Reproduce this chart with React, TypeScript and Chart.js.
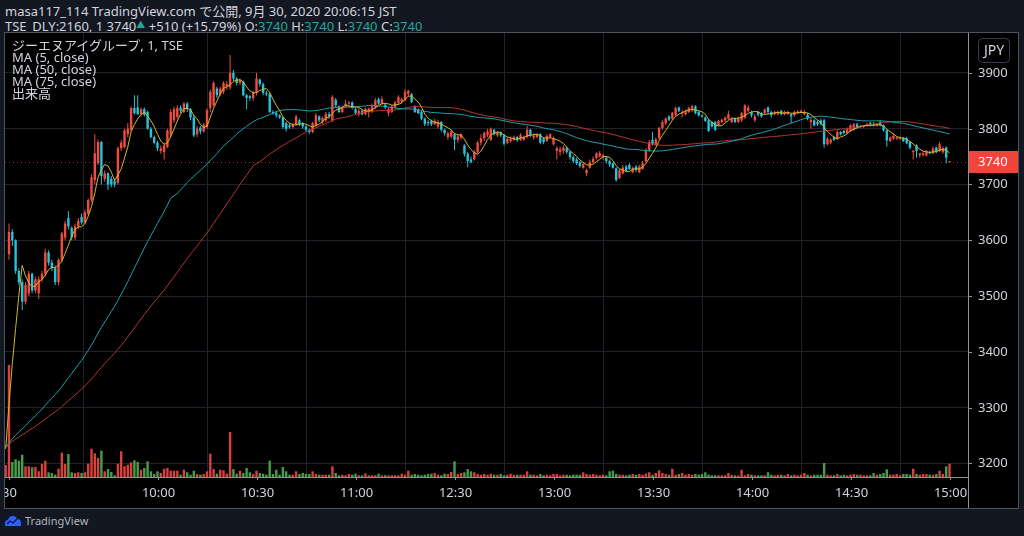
import React, { useEffect, useRef } from "react";
import { Chart, registerables } from "chart.js";
Chart.register(...registerables);

// ---- data (1-minute bars, 30 Sep 2020, 9:15 .. 15:00) ----
const openP = [
3575,3615,3600,3545,3525,3490,3505,3540,3510,3505,3530,3540,3578,3560,3550,3525,3565,3605,3640,3622,
3605,3625,3642,3632,3648,3672,3708,3738,3776,3710,3720,3710,3706,3703,3765,3767,3790,3798,3837,3838,
3826,3835,3830,3800,3785,3775,3760,3758,3767,3789,3815,3821,3838,3830,3845,3835,3820,3790,3802,3795,
3803,3837,3842,3872,3862,3866,3876,3874,3900,3890,3882,3884,3860,3858,3855,3864,3888,3880,3864,3862,
3830,3828,3824,3820,3810,3806,3803,3808,3815,3810,3804,3798,3794,3805,3822,3812,3815,3826,3815,3852,
3840,3830,3840,3845,3847,3835,3826,3832,3826,3830,3830,3838,3853,3845,3843,3828,3830,3838,3846,3848,
3851,3862,3862,3840,3834,3830,3818,3812,3814,3808,3804,3812,3798,3785,3786,3790,3780,3784,3770,3755,
3745,3745,3758,3775,3783,3788,3780,3798,3788,3793,3788,3775,3778,3780,3785,3780,3780,3785,3798,3784,
3785,3790,3782,3778,3785,3772,3760,3758,3760,3765,3758,3749,3745,3740,3730,3720,3730,3740,3747,3750,
3748,3748,3742,3738,3729,3712,3720,3732,3735,3722,3732,3722,3728,3742,3762,3780,3772,3783,3801,3810,
3822,3818,3825,3838,3828,3826,3830,3834,3840,3830,3824,3820,3815,3812,3812,3806,3812,3815,3818,3812,
3818,3812,3815,3820,3832,3830,3815,3830,3828,3828,3838,3830,3826,3826,3832,3826,3826,3826,3824,3828,
3829,3826,3825,3812,3815,3812,3815,3815,3772,3775,3785,3782,3794,3796,3792,3796,3798,3808,3803,3803,
3805,3810,3808,3806,3812,3806,3797,3778,3782,3782,3782,3783,3783,3776,3758,3770,3753,3753,3752,3758,
3756,3766,3760,3758,3766,3740
];
const highP = [
3630,3620,3602,3550,3530,3525,3545,3542,3535,3535,3545,3585,3582,3565,3555,3568,3615,3635,3652,3625,
3630,3640,3648,3655,3675,3718,3790,3780,3778,3725,3722,3715,3710,3768,3780,3800,3810,3840,3860,3860,
3838,3838,3832,3803,3788,3778,3770,3775,3800,3835,3840,3842,3842,3848,3848,3837,3825,3805,3805,3810,
3836,3870,3885,3875,3875,3885,3885,3932,3905,3892,3890,3886,3862,3860,3868,3900,3890,3883,3868,3865,
3833,3832,3826,3822,3812,3810,3810,3825,3818,3812,3806,3800,3812,3828,3824,3822,3830,3830,3860,3855,
3842,3842,3852,3850,3849,3838,3836,3834,3838,3838,3845,3855,3856,3858,3846,3838,3842,3850,3860,3856,
3871,3870,3864,3842,3836,3832,3820,3815,3816,3818,3816,3814,3800,3795,3798,3792,3790,3792,3772,3758,
3750,3762,3778,3790,3795,3800,3802,3800,3796,3795,3790,3784,3786,3788,3787,3792,3788,3805,3800,3792,
3792,3792,3785,3790,3792,3786,3768,3768,3770,3768,3760,3752,3748,3742,3740,3728,3745,3750,3758,3760,
3755,3750,3745,3740,3731,3728,3735,3735,3738,3732,3735,3735,3742,3765,3780,3794,3784,3803,3815,3820,
3824,3830,3840,3840,3834,3834,3840,3843,3842,3832,3826,3822,3817,3814,3814,3816,3818,3822,3832,3820,
3820,3822,3830,3844,3842,3832,3826,3832,3830,3836,3840,3832,3832,3832,3834,3832,3832,3828,3832,3833,
3834,3834,3828,3820,3818,3815,3818,3818,3785,3783,3787,3797,3796,3798,3802,3808,3810,3810,3806,3806,
3810,3812,3812,3810,3815,3808,3799,3786,3790,3786,3786,3785,3785,3778,3762,3772,3756,3758,3762,3760,
3768,3768,3776,3768,3768,3740
];
const lowP = [
3565,3590,3540,3520,3475,3485,3500,3505,3505,3495,3525,3535,3555,3545,3520,3520,3560,3600,3620,3600,
3600,3620,3628,3630,3645,3668,3700,3735,3700,3705,3690,3695,3695,3700,3760,3765,3785,3795,3825,3825,
3822,3822,3798,3783,3772,3760,3755,3745,3765,3785,3810,3818,3828,3828,3830,3815,3785,3785,3790,3793,
3800,3830,3840,3855,3858,3862,3870,3870,3885,3878,3878,3858,3835,3850,3850,3860,3875,3860,3858,3828,
3825,3820,3818,3800,3795,3800,3800,3805,3805,3800,3795,3790,3792,3803,3812,3808,3812,3818,3812,3838,
3828,3828,3838,3840,3835,3825,3822,3824,3824,3820,3828,3835,3843,3843,3835,3822,3828,3836,3843,3845,
3849,3858,3846,3828,3826,3815,3805,3805,3805,3806,3800,3795,3788,3780,3783,3762,3775,3780,3750,3731,
3738,3743,3755,3770,3778,3785,3778,3788,3785,3785,3770,3772,3775,3778,3776,3778,3778,3783,3785,3780,
3783,3772,3772,3776,3783,3770,3745,3752,3755,3755,3745,3738,3735,3730,3728,3715,3728,3738,3745,3748,
3745,3738,3732,3728,3705,3710,3718,3722,3726,3720,3722,3720,3726,3740,3758,3770,3770,3780,3798,3806,
3814,3815,3822,3830,3820,3824,3828,3830,3826,3822,3820,3812,3794,3802,3796,3804,3810,3812,3816,3810,
3810,3810,3812,3818,3830,3820,3812,3822,3820,3826,3826,3820,3824,3824,3824,3824,3824,3810,3822,3826,
3828,3824,3815,3800,3804,3805,3806,3766,3770,3772,3778,3780,3788,3790,3790,3794,3796,3800,3801,3801,
3803,3804,3804,3804,3804,3795,3768,3776,3780,3780,3780,3776,3772,3763,3745,3748,3748,3750,3750,3754,
3754,3756,3758,3755,3738,3740
];
const closeP = [
3615,3600,3545,3525,3490,3520,3540,3510,3530,3530,3540,3578,3560,3550,3525,3565,3612,3630,3625,3605,
3625,3635,3632,3650,3672,3713,3756,3776,3715,3720,3700,3700,3700,3765,3775,3797,3800,3837,3828,3826,
3835,3825,3800,3785,3775,3765,3765,3770,3797,3830,3835,3837,3832,3845,3835,3820,3788,3800,3795,3807,
3833,3866,3882,3860,3872,3882,3880,3900,3890,3882,3887,3860,3855,3855,3864,3890,3880,3864,3862,3830,
3828,3824,3820,3803,3800,3803,3808,3822,3808,3804,3798,3794,3810,3824,3815,3819,3826,3822,3857,3842,
3830,3838,3845,3847,3838,3828,3832,3826,3835,3836,3840,3851,3845,3853,3838,3835,3840,3847,3857,3853,
3866,3868,3848,3830,3828,3818,3808,3810,3808,3814,3812,3798,3792,3792,3795,3780,3786,3790,3755,3742,
3740,3758,3775,3783,3792,3795,3800,3790,3793,3788,3773,3782,3782,3785,3780,3789,3785,3798,3788,3788,
3790,3775,3776,3787,3790,3783,3765,3763,3766,3758,3749,3742,3738,3733,3737,3726,3740,3746,3756,3756,
3752,3742,3736,3730,3708,3725,3730,3725,3728,3730,3726,3732,3738,3762,3776,3772,3781,3801,3812,3818,
3816,3828,3837,3832,3830,3832,3837,3840,3828,3824,3822,3814,3796,3804,3798,3814,3816,3820,3826,3818,
3812,3818,3828,3842,3838,3824,3822,3825,3822,3834,3830,3824,3830,3830,3826,3830,3830,3822,3830,3831,
3832,3830,3818,3816,3806,3808,3808,3772,3782,3780,3780,3794,3790,3792,3799,3806,3808,3803,3805,3805,
3808,3807,3806,3808,3806,3797,3779,3784,3787,3784,3784,3778,3774,3766,3760,3760,3756,3756,3760,3756,
3764,3758,3772,3765,3748,3740
];
const volumes = [
11200,1500,1770,1630,2230,1070,1070,970,1000,570,1300,1630,470,400,230,830,2430,1300,2300,470,
400,470,400,470,1330,2830,2370,1900,2630,570,800,500,170,1330,2570,1070,1230,1470,1670,1500,
730,900,1570,570,300,570,400,830,900,630,630,630,230,730,470,230,630,300,230,300,
570,2330,800,330,730,670,330,4500,800,330,630,400,900,470,300,630,400,330,230,1630,
300,730,230,1000,570,230,230,570,300,400,300,300,570,300,230,230,230,230,1070,400,
170,230,170,300,230,330,170,170,370,170,170,170,330,170,170,170,170,170,170,330,
230,630,230,300,230,170,230,300,330,400,230,170,330,300,500,1570,300,400,470,800,
570,470,300,230,300,230,330,230,230,300,170,230,330,230,230,230,230,570,230,230,
170,300,170,230,170,300,300,170,230,230,170,230,230,230,470,300,230,300,230,170,
230,170,570,630,300,230,230,170,230,300,230,300,230,330,470,230,400,670,400,300,
230,830,230,300,400,230,300,230,300,230,300,470,230,170,170,170,170,170,400,230,
170,170,730,170,300,230,170,170,170,170,470,230,170,230,230,170,300,170,230,170,
230,400,230,170,230,230,230,1400,230,170,170,300,170,230,170,230,300,230,230,170,
170,170,400,230,300,400,770,230,230,300,170,300,300,230,830,300,230,300,300,230,
230,300,630,300,1070,1330
];
// previous session's closing prices (only used by the moving averages)
const prevDayCloses = [
3235,3240,3235,3230,3230,3225,3230,3235,3230,3225,3220,3225,3230,3230,3235,3230,3225,3225,3230,3235,
3240,3235,3230,3225,3230,3230,3235,3230,3225,3220,3225,3230,3230,3235,3240,3235,3230,3230,3225,3230,
3235,3230,3225,3225,3230,3230,3235,3230,3225,3230,3230,3225,3220,3225,3230,3235,3230,3230,3225,3230,
3230,3235,3230,3225,3230,3230,3225,3230,3235,3230,3225,3230,3230,3225,3225
];
const prevDayLastVolume = 1200;
const timeTickIndex = [0, 45, 75, 105, 135, 165, 195, 225, 255, 285];
const timeTickLabels = ["30", "10:00", "10:30", "11:00", "12:30", "13:00", "13:30", "14:00", "14:30", "15:00"];
const priceTicks = [3200, 3300, 3400, 3500, 3600, 3700, 3800, 3900];
const maPeriods = [5, 50, 75];
const maColors = ["#cdb82c", "#1e9fb0", "#b8352f"];
const legendLines = ["ジーエヌアイグループ, 1, TSE", "MA (5, close)", "MA (50, close)", "MA (75, close)", "出来高"];

const UP = "#f04d40";
const DOWN = "#29c2dc";
const VOL_UP = "#d9413a";
const VOL_DOWN = "#43a047";
const FONT = '"Noto Sans", "Noto Sans CJK JP", sans-serif';
const TEXT = "#d1d4dc";
const TEAL = "#26a69a";

export default function App() {
  const ref = useRef<HTMLCanvasElement>(null);
  useEffect(() => {
    const canvas = ref.current!;
    const off = prevDayCloses.length;
    const allClose = prevDayCloses.concat(closeP);
    const ma = (p: number) => {
      const pts: { x: number; y: number }[] = [];
      for (let k = Math.max(p - 1, off - 3); k < allClose.length; k++) {
        let s = 0;
        for (let j = k - p + 1; j <= k; j++) s += allClose[j];
        pts.push({ x: k - off, y: s / p });
      }
      return pts;
    };
    const isUp = closeP.map((c, i) => c >= openP[i]);
    const lastClose = closeP[closeP.length - 1];

    const overlay = {
      id: "overlay",
      beforeDatasetsDraw(chart: any) {
        const { ctx, chartArea: a, scales } = chart;
        const y = Math.round(scales.y.getPixelForValue(lastClose)) + 0.5;
        ctx.save();
        ctx.strokeStyle = "#9c2f2c";
        ctx.lineWidth = 1;
        ctx.setLineDash([1, 3]);
        ctx.beginPath();
        ctx.moveTo(a.left, y);
        ctx.lineTo(a.right, y);
        ctx.stroke();
        ctx.restore();
      },
      afterDraw(chart: any) {
        const { ctx, chartArea: a, scales } = chart;
        const W = chart.width, H = chart.height;
        ctx.save();
        // axis lines
        ctx.strokeStyle = "#8f929b";
        ctx.lineWidth = 1;
        ctx.beginPath();
        ctx.moveTo(a.right + 0.5, 0);
        ctx.lineTo(a.right + 0.5, H);
        ctx.moveTo(0, a.bottom + 0.5);
        ctx.lineTo(a.right, a.bottom + 0.5);
        ctx.stroke();
        // price ticks and labels
        ctx.font = "13px " + FONT;
        ctx.fillStyle = TEXT;
        ctx.textBaseline = "middle";
        ctx.textAlign = "left";
        for (const v of priceTicks) {
          const py = Math.round(scales.y.getPixelForValue(v)) + 0.5;
          ctx.beginPath();
          ctx.moveTo(a.right, py);
          ctx.lineTo(a.right + 4, py);
          ctx.stroke();
          ctx.fillText(String(v), a.right + 10, py);
        }
        // time ticks and labels
        ctx.textAlign = "center";
        for (let i = 0; i < timeTickIndex.length; i++) {
          const px = Math.round(scales.x.getPixelForValue(timeTickIndex[i])) + 0.5;
          ctx.beginPath();
          ctx.moveTo(px, a.bottom);
          ctx.lineTo(px, a.bottom + 3);
          ctx.stroke();
          ctx.fillText(timeTickLabels[i], px, a.bottom + 16);
        }
        // last price label
        const ly = scales.y.getPixelForValue(lastClose);
        ctx.fillStyle = "#f0453a";
        ctx.fillRect(a.right + 1, Math.round(ly - 11), W - a.right - 1, 22);
        ctx.fillStyle = "#ffffff";
        ctx.textAlign = "left";
        ctx.fillText(String(lastClose), a.right + 10, ly + 0.5);
        // JPY button
        ctx.strokeStyle = "#3a3e4a";
        ctx.beginPath();
        const bx = a.right + 10.5, by = 5.5, bw = 31, bh = 24, r = 4;
        ctx.moveTo(bx + r, by);
        ctx.arcTo(bx + bw, by, bx + bw, by + bh, r);
        ctx.arcTo(bx + bw, by + bh, bx, by + bh, r);
        ctx.arcTo(bx, by + bh, bx, by, r);
        ctx.arcTo(bx, by, bx + bw, by, r);
        ctx.closePath();
        ctx.stroke();
        ctx.fillStyle = TEXT;
        ctx.textAlign = "center";
        ctx.font = "14px " + FONT;
        ctx.fillText("JPY", bx + bw / 2, by + bh / 2 + 0.5);
        ctx.restore();
      },
    };

    const chart = new Chart(canvas, {
      type: "bar",
      data: {
        datasets: [
          {
            type: "line",
            data: ma(maPeriods[0]),
            borderColor: maColors[0],
            borderWidth: 1,
            pointRadius: 0,
            order: 1,
          } as any,
          {
            type: "line",
            data: ma(maPeriods[1]),
            borderColor: maColors[1],
            borderWidth: 1,
            pointRadius: 0,
            order: 2,
          },
          {
            type: "line",
            data: ma(maPeriods[2]),
            borderColor: maColors[2],
            borderWidth: 1,
            pointRadius: 0,
            order: 3,
          },
          {
            type: "bar",
            data: closeP.map((c, i) => ({ x: i, y: [openP[i], c] })),
            backgroundColor: isUp.map((u) => (u ? UP : DOWN)),
            barThickness: 2.4,
            minBarLength: 1,
            grouped: false,
            inflateAmount: 0,
            borderWidth: 0,
            order: 4,
          },
          {
            type: "bar",
            data: closeP.map((_, i) => ({ x: i, y: [lowP[i], highP[i]] })),
            backgroundColor: isUp.map((u) => (u ? UP : DOWN)),
            barThickness: 1,
            grouped: false,
            inflateAmount: 0,
            borderWidth: 0,
            order: 5,
          },
          {
            type: "bar",
            yAxisID: "vol",
            data: [{ x: -1, y: prevDayLastVolume }].concat(volumes.map((v, i) => ({ x: i, y: v }))),
            backgroundColor: [VOL_UP].concat(isUp.map((u) => (u ? VOL_UP : VOL_DOWN))),
            barThickness: 2.4,
            grouped: false,
            inflateAmount: 0,
            borderWidth: 0,
            order: 10,
          },
        ] as any,
      },
      options: {
        animation: false,
        responsive: false,
        devicePixelRatio: 1,
        events: [],
        layout: { padding: 0 },
        plugins: { legend: { display: false }, tooltip: { enabled: false } },
        scales: {
          x: {
            type: "linear",
            offset: false,
            min: -1.212,
            max: 290.6,
            afterBuildTicks: (s: any) => {
              s.ticks = timeTickIndex.map((v) => ({ value: v }));
            },
            afterFit: (s: any) => {
              s.height = 31;
            },
            ticks: { display: false },
            grid: { color: "#1f222b", drawTicks: false },
            border: { display: false },
          },
          y: {
            type: "linear",
            position: "right",
            min: 3175.8,
            max: 3971.5,
            afterBuildTicks: (s: any) => {
              s.ticks = priceTicks.map((v) => ({ value: v }));
            },
            afterFit: (s: any) => {
              s.width = 50;
            },
            ticks: { display: false },
            grid: { color: "#1f222b", drawTicks: false },
            border: { display: false },
          },
          vol: {
            type: "linear",
            display: false,
            min: 0,
            max: 44400,
          },
        },
      } as any,
      plugins: [overlay],
    });
    return () => chart.destroy();
  }, []);

  const txt: React.CSSProperties = {
    position: "absolute",
    fontFamily: FONT,
    fontSize: 13,
    lineHeight: "13px",
    color: TEXT,
    whiteSpace: "nowrap",
  };
  const teal: React.CSSProperties = { color: TEAL };

  return (
    <div style={{ position: "fixed", left: 0, top: 0, width: 1024, height: 536, background: "#131722", overflow: "hidden" }}>
      <div style={{ ...txt, left: 5, top: 5 }}>masa117_114 TradingView.com で公開, 9月 30, 2020 20:06:15 JST</div>
      <div style={{ ...txt, left: 5, top: 18 }}>
        TSE_DLY:2160, 1 3740<span style={{ ...teal, fontSize: 9, verticalAlign: "3px" }}>▲</span> +510 (+15.79%) O:<span style={teal}>3740</span> H:<span style={teal}>3740</span> L:<span style={teal}>3740</span> C:<span style={teal}>3740</span>
      </div>
      <div style={{ position: "absolute", left: 4, top: 32, width: 1013, height: 475, border: "1px solid #50535e", background: "#000000" }}>
        <canvas ref={ref} width={1013} height={475} style={{ display: "block", width: 1013, height: 475 }} />
        <div style={{ position: "absolute", left: 7, top: 6 }}>
          {legendLines.map((l, i) => (
            <div key={i} style={{ ...txt, position: "absolute", left: 0, top: i * 12.1, fontSize: 13, lineHeight: "13px" }}>{l}</div>
          ))}
        </div>
      </div>
      <svg style={{ position: "absolute", left: 4, top: 514 }} width="18" height="13" viewBox="0 0 18 13">
        <path d="M1 12 L1 9 Q1 6 4 6 Q5 2 9 2 Q12 2 13 5 Q17 5 17 9 L17 12 Z" fill="#2962ff" />
        <path d="M3 10 L6 7 L9 9 L13 5" stroke="#131722" strokeWidth="1.3" fill="none" />
      </svg>
      <div style={{ ...txt, left: 25, top: 515, fontSize: 11, lineHeight: "11px", color: "#b2b5be" }}>TradingView</div>
    </div>
  );
}
